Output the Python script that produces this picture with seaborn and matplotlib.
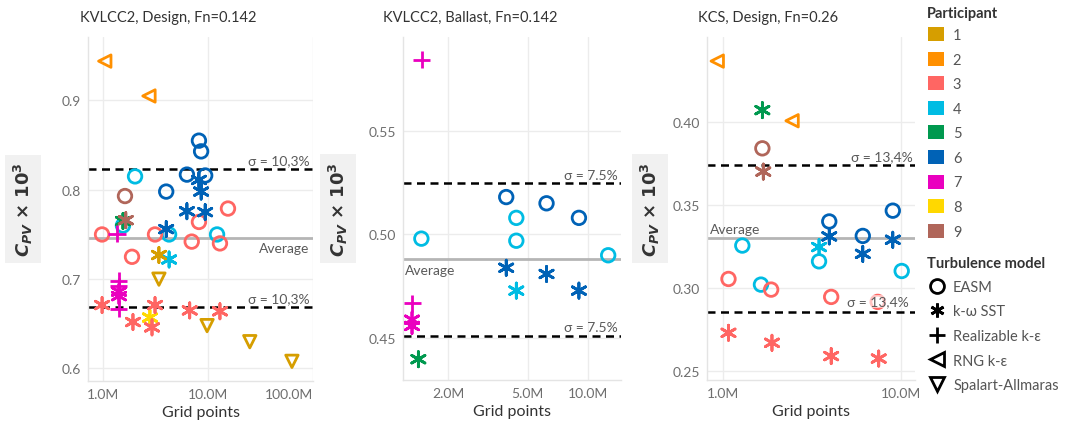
import numpy as np
import pandas as pd
import matplotlib
matplotlib.use('Agg')
import matplotlib.pyplot as plt
import seaborn as sns
from matplotlib.lines import Line2D
from matplotlib.patches import Patch

# --- values ---
# grid points in millions, C_PV x 10^3, participant id, turbulence model
p1_n = [8.2, 8.6, 6.3, 9.4, 4.0, 2.02, 1.55, 4.26, 12.2, 1.62, 15.5, 8.2, 0.98, 3.13, 7.0, 13.0, 1.89,
        8.2, 8.6, 6.3, 9.4, 4.0, 1.55, 1.65, 4.26, 3.41, 2.8, 1.42, 1.42, 0.98, 1.93, 3.13, 2.93, 6.7, 13.0,
        1.36, 1.42, 1.42, 1.42,
        1.04, 2.74,
        3.41, 9.8, 25.0, 63.0]
p1_cpv = [0.855, 0.843, 0.817, 0.816, 0.798, 0.815, 0.760, 0.750, 0.750, 0.793, 0.779, 0.764, 0.750, 0.750, 0.742, 0.740, 0.725,
          0.811, 0.798, 0.776, 0.775, 0.756, 0.765, 0.766, 0.722, 0.727, 0.657, 0.686, 0.681, 0.671, 0.652, 0.671, 0.646, 0.665, 0.664,
          0.751, 0.698, 0.692, 0.667,
          0.944, 0.905,
          0.700, 0.648, 0.630, 0.608]
p1_part = [6, 6, 6, 6, 6, 4, 4, 4, 4, 9, 3, 3, 3, 3, 3, 3, 3,
           6, 6, 6, 6, 6, 5, 9, 4, 1, 8, 7, 7, 3, 3, 3, 3, 3, 3,
           7, 7, 7, 7,
           2, 2,
           1, 1, 1, 1]
p1_model = ['EASM'] * 17 + ['k-ω SST'] * 18 + ['Realizable k-ε'] * 4 + ['RNG k-ε'] * 2 + ['Spalart-Allmaras'] * 4

p2_n = [1.47, 3.9, 4.38, 4.38, 6.2, 9.0, 12.6,
        3.9, 6.2, 4.38, 9.0, 1.32, 1.32, 1.42,
        1.48, 1.32]
p2_cpv = [0.498, 0.518, 0.508, 0.497, 0.515, 0.508, 0.490,
          0.484, 0.481, 0.473, 0.473, 0.459, 0.456, 0.440,
          0.584, 0.467]
p2_part = [4, 6, 4, 4, 6, 6, 4,
           6, 6, 4, 6, 7, 7, 5,
           7, 7]
p2_model = ['EASM'] * 7 + ['k-ω SST'] * 7 + ['Realizable k-ε'] * 2

p3_n = [1.66, 1.28, 1.07, 1.63, 1.86, 3.95, 3.46, 4.05, 6.1, 9.0, 10.1, 7.4,
        1.66, 1.68, 1.07, 1.88, 3.95, 3.46, 4.05, 6.1, 9.0, 7.5,
        0.925, 2.44]
p3_cpv = [0.384, 0.3255, 0.3054, 0.302, 0.299, 0.340, 0.316, 0.2946, 0.3313, 0.3465, 0.3102, 0.2916,
          0.407, 0.370, 0.273, 0.267, 0.331, 0.3246, 0.259, 0.3205, 0.329, 0.2575,
          0.4365, 0.4006]
p3_part = [9, 4, 3, 4, 3, 6, 4, 3, 6, 6, 4, 3,
           5, 9, 3, 3, 6, 4, 3, 6, 6, 3,
           2, 2]
p3_model = ['EASM'] * 12 + ['k-ω SST'] * 10 + ['RNG k-ε'] * 2

titles = ['KVLCC2, Design, Fn=0.142', 'KVLCC2, Ballast, Fn=0.142', 'KCS, Design, Fn=0.26']
averages = [0.746, 0.488, 0.330]
sigmas = [0.103, 0.075, 0.134]
sigma_labels = ['σ = 10,3%', 'σ = 7.5%', 'σ = 13,4%']

y_ticks = [[0.6, 0.7, 0.8, 0.9], [0.45, 0.50, 0.55], [0.25, 0.30, 0.35, 0.40]]
y_ticklabels = [['0.6', '0.7', '0.8', '0.9'], ['0.45', '0.50', '0.55'], ['0.25', '0.30', '0.35', '0.40']]
x_ticks = [[1, 10, 100], [2, 5, 10], [1, 10]]
x_ticklabels = [['1.0M', '10.0M', '100.0M'], ['2.0M', '5.0M', '10.0M'], ['1.0M', '10.0M']]

participants = [1, 2, 3, 4, 5, 6, 7, 8, 9]
part_colors = ['#d69e00', '#ff9000', '#ff6663', '#00bce3', '#00994f', '#0062b6', '#ea00bf', '#ffd800', '#b0665a']
models = ['EASM', 'k-ω SST', 'Realizable k-ε', 'RNG k-ε', 'Spalart-Allmaras']

palette = dict(zip(participants, part_colors))
markers = {'EASM': 'o', 'k-ω SST': (6, 2, 0), 'Realizable k-ε': '+',
           'RNG k-ε': '<', 'Spalart-Allmaras': 'v'}
open_markers = ['EASM', 'RNG k-ε', 'Spalart-Allmaras']
msize = {'EASM': 95, 'k-ω SST': 120, 'Realizable k-ε': 150, 'RNG k-ε': 80, 'Spalart-Allmaras': 80}

sns.set_theme(style='white')
plt.rcParams['font.family'] = ['Lato', 'DejaVu Sans']

W, H = 1072, 435
fig = plt.figure(figsize=(W / 100, H / 100), dpi=100)

# axes boxes in pixels: left, right, top, bottom
boxes = [(88, 313, 38, 382), (403, 621, 38, 381), (707, 915, 38, 381)]
xlims = [(0.72, 100), (1.19, 14.6), (0.81, 12.0)]
ylims = [(0.586, 0.971), (0.430, 0.595), (0.2446, 0.451)]
title_x = [168, 470, 768]
ylabel_x = [23, 338, 650]

frames = [
    pd.DataFrame({'n': p1_n, 'cpv': p1_cpv, 'part': p1_part, 'model': p1_model}),
    pd.DataFrame({'n': p2_n, 'cpv': p2_cpv, 'part': p2_part, 'model': p2_model}),
    pd.DataFrame({'n': p3_n, 'cpv': p3_cpv, 'part': p3_part, 'model': p3_model}),
]

txt_col = '#5a5a5a'

for i, df in enumerate(frames):
    l, r, t, b = boxes[i]
    ax = fig.add_axes([l / W, 1 - b / H, (r - l) / W, (b - t) / H])
    ax.set_xscale('log')

    # reference lines
    avg = averages[i]
    ax.axhline(avg, color='#b5b5b5', lw=2, zorder=1)
    for s in (1 + sigmas[i], 1 - sigmas[i]):
        ax.axhline(avg * s, color='black', lw=1.8, ls=(0, (3.2, 2.2)), zorder=1)

    for model in models:
        sub = df[df['model'] == model]
        if sub.empty:
            continue
        sns.scatterplot(data=sub, x='n', y='cpv', hue='part', palette=palette,
                        marker=markers[model], s=msize[model], linewidth=2,
                        legend=False, ax=ax, zorder=3)
        coll = ax.collections[-1]
        if model in open_markers:
            coll.set_edgecolor(coll.get_facecolor())
            coll.set_facecolor('none')

    ax.set_xlim(*xlims[i])
    ax.set_ylim(*ylims[i])
    ax.set_yticks(y_ticks[i], y_ticklabels[i])
    ax.set_xticks(x_ticks[i], x_ticklabels[i])
    ax.minorticks_on()
    ax.yaxis.set_minor_locator(matplotlib.ticker.NullLocator())
    ax.xaxis.set_minor_formatter(matplotlib.ticker.NullFormatter())
    ax.tick_params(axis='both', which='major', length=0, labelsize=10, labelcolor='#6e6e6e', pad=5)
    ax.tick_params(axis='x', which='minor', length=3, width=0.8, color='#d0d0d0', direction='in')
    ax.grid(True, which='major', color='#ececec', lw=1)
    ax.set_axisbelow(True)
    for side in ['top', 'right']:
        ax.spines[side].set_visible(False)
    for side in ['left', 'bottom']:
        ax.spines[side].set_color('#e4e4e4')
        ax.spines[side].set_linewidth(1)

    ax.set_xlabel('Grid points', fontsize=11.5, color='#333333', labelpad=4)
    ax.set_ylabel(r'$\boldsymbol{C}_{\boldsymbol{PV}}\ \boldsymbol{\times}\ \mathbf{10}^{\mathbf{3}}$',
                  fontsize=13, color='#333333', va='center',
                  bbox=dict(facecolor='#f1f1f1', edgecolor='none', pad=5))
    ax.yaxis.set_label_coords((ylabel_x[i] - l) / (r - l), 0.5)

    # last x tick label kept inside the pane
    if i == 0:
        ax.get_xticklabels()[-1].set_ha('right')

    # annotations
    up, lo = avg * (1 + sigmas[i]), avg * (1 - sigmas[i])
    ann = dict(xycoords=('axes fraction', 'data'), textcoords='offset points',
               fontsize=10, color=txt_col, zorder=4)
    if i == 2:
        ax.annotate(sigma_labels[i], xy=(0.99, up), xytext=(0, 2), ha='right', va='bottom', **ann)
        ax.annotate(sigma_labels[i], xy=(0.97, lo), xytext=(0, 3), ha='right', va='bottom',
                    bbox=dict(facecolor='white', edgecolor='none', alpha=0.6, pad=0.5), **ann)
        ax.annotate('Average', xy=(0.015, avg), xytext=(0, 2), ha='left', va='bottom', **ann)
    else:
        ax.annotate(sigma_labels[i], xy=(0.985, up), xytext=(0, 2), ha='right', va='bottom', **ann)
        ax.annotate(sigma_labels[i], xy=(0.985, lo), xytext=(0, 2), ha='right', va='bottom', **ann)
        if i == 0:
            ax.annotate('Average', xy=(0.985, avg), xytext=(0, -3), ha='right', va='top', **ann)
        else:
            ax.annotate('Average', xy=(0.01, avg), xytext=(0, -3), ha='left', va='top', **ann)

    fig.text(title_x[i] / W, 1 - 18 / H, titles[i], ha='center', va='center',
             fontsize=10.5, color='#333333')

# legends (titles drawn as separate text to control spacing)
fig.text(927 / W, 1 - 14 / H, 'Participant', ha='left', va='center',
         fontsize=10.5, fontweight='bold', color='#333333')
part_handles = [Patch(facecolor=palette[p], edgecolor='none') for p in participants]
leg1 = fig.legend(part_handles, [str(p) for p in participants],
                  loc='upper left', bbox_to_anchor=(928 / W, 1 - 28 / H), frameon=False,
                  fontsize=10.5, handlelength=1.1, handleheight=1.1, handletextpad=0.6,
                  labelspacing=0.66, borderpad=0, borderaxespad=0)
for txt in leg1.get_texts():
    txt.set_color('#555555')

fig.text(927 / W, 1 - 264 / H, 'Turbulence model', ha='left', va='center',
         fontsize=10.5, fontweight='bold', color='#333333')
model_handles = [Line2D([], [], ls='none', marker=markers[m], color='black',
                        mfc='none', mec='black', mew=2, ms=10 if m != 'Realizable k-ε' else 11)
                 for m in models]
leg2 = fig.legend(model_handles, models,
                  loc='upper left', bbox_to_anchor=(929 / W, 1 - 281 / H), frameon=False,
                  fontsize=10.5, handlelength=1.05, handletextpad=0.6,
                  labelspacing=0.72, borderpad=0, borderaxespad=0)
for txt in leg2.get_texts():
    txt.set_color('#555555')

fig.savefig('out.png', dpi=100)
